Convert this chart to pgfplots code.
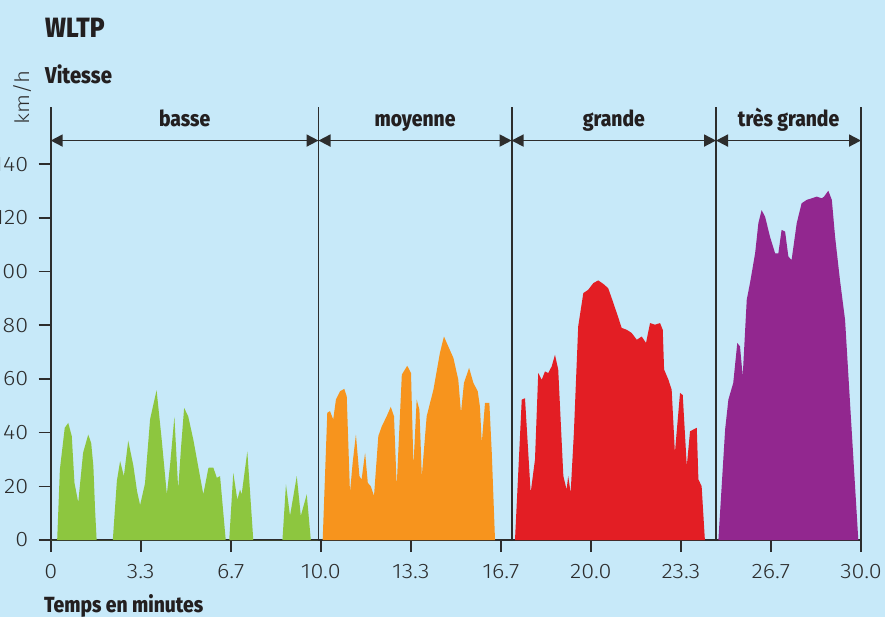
\documentclass[border=0pt]{standalone}
\usepackage{pgfplots}
\pgfplotsset{compat=1.18}
\usetikzlibrary{arrows.meta}
\usepackage{fontspec}
\setmainfont{Fira Sans}
\newfontfamily\lightfont[FakeStretch=1.12]{Fira Sans Light}
\newfontfamily\headfont[FakeStretch=0.88]{Fira Sans ExtraBold}

\definecolor{bgblue}{RGB}{199,233,249}
\definecolor{axisgray}{RGB}{45,45,45}
\definecolor{txt}{RGB}{35,31,32}
\definecolor{cbasse}{RGB}{141,198,63}
\definecolor{cmoy}{RGB}{247,148,29}
\definecolor{cgrande}{RGB}{227,30,36}
\definecolor{ctres}{RGB}{146,39,143}

\begin{document}
\begin{tikzpicture}
\useasboundingbox (0,0) rectangle (885bp,617bp);
\clip (0,0) rectangle (885bp,617bp);
\fill[bgblue] (0,0) rectangle (885bp,617bp);

\begin{axis}[
	at={(50.7bp,77bp)}, anchor=south west,
	scale only axis,
	width=810.3bp, height=433bp,
	xmin=0, xmax=30, ymin=0, ymax=161.3,
	clip=false,
	axis x line=bottom, axis y line=left,
	axis line style={-, line width=1.8bp, draw=axisgray},
	tick align=outside,
	major tick length=12bp,
	tick style={line width=1.6bp, draw=axisgray},
	xtick={0,3.3333,6.6667,10,13.3333,16.6667,20,23.3333,26.6667,30},
	xticklabels={0,3.3,6.7,10.0,13.3,16.7,20.0,23.3,26.7,30.0},
	ytick={0,20,...,140},
	/pgf/number format/assume math mode=true,
	tick label style={font=\lightfont\fontsize{21}{21}\selectfont, text=axisgray},
	xticklabel style={yshift=-9bp},
	yticklabel style={xshift=-7bp},
]
% basse
\addplot[fill=cbasse, draw=none] coordinates {
(0,0) (0.24,0) (0.34,26.3) (0.52,41.8) (0.65,43.6) (0.78,38.7) (0.88,21.3)
(1.02,14) (1.2,32.5) (1.39,39.3) (1.5,36) (1.58,27.5) (1.64,12) (1.70,0)
(2.30,0) (2.45,22) (2.57,29.4) (2.71,23.8) (2.87,37) (3.06,27.7) (3.20,18)
(3.31,13) (3.49,21) (3.68,45) (3.92,55.8) (4.11,37.4) (4.30,17) (4.42,28)
(4.58,45.9) (4.72,19) (4.83,35) (4.94,49.2) (5.09,46.1) (5.28,37.4) (5.45,28)
(5.65,17) (5.84,26.9) (6.02,27) (6.15,23.2) (6.27,23.8) (6.48,0)
(6.61,0) (6.76,25) (6.91,15) (7.01,18.8) (7.07,17) (7.28,33) (7.50,0)
(8.58,0) (8.71,20.7) (8.86,9) (9.11,23.8) (9.26,9) (9.48,17) (9.63,0) (9.9,0)
} \closedcycle;
% moyenne
\addplot[fill=cmoy, draw=none] coordinates {
(10.07,0) (10.24,47.4) (10.34,48) (10.46,44.9) (10.56,52.3) (10.71,55.4)
(10.87,56.3) (10.96,53.5) (11.08,17.6) (11.18,28.8) (11.30,39.3) (11.43,23.8)
(11.51,22.5) (11.64,32.5) (11.74,21.3) (11.85,20) (11.97,16.4) (12.13,38.7)
(12.26,42.4) (12.44,46.1) (12.59,49.6) (12.71,46.1) (12.81,20) (13.00,61.6)
(13.20,64.9) (13.34,62.2) (13.43,27.5) (13.55,52.3) (13.65,48.6) (13.74,23.8)
(13.92,46.1) (14.17,56) (14.41,69.7) (14.56,75.8) (14.72,72.1) (14.91,67.8)
(15.09,59.7) (15.19,47.4) (15.30,58.5) (15.49,64.1) (15.65,58.5) (15.81,55.4)
(15.89,49.8) (15.96,36.2) (16.08,51.1) (16.24,51.1) (16.33,32.5) (16.45,0)
} \closedcycle;
% grande
\addplot[fill=cgrande, draw=none] coordinates {
(17.19,0) (17.44,52.3) (17.56,52.8) (17.77,17.6) (17.93,30) (18.05,62.2)
(18.18,59.7) (18.30,62.8) (18.42,62.2) (18.55,64.7) (18.67,69) (18.79,63.5)
(18.98,23.8) (19.10,18.8) (19.16,23.8) (19.25,17.6) (19.37,39.9) (19.53,79.6)
(19.72,92) (19.90,93.2) (20.09,95.7) (20.27,96.7) (20.46,95.4) (20.64,93.8)
(20.77,90.1) (20.96,84.5) (21.14,79) (21.33,78.3) (21.51,77.1) (21.70,74.6)
(21.88,75.8) (22.04,73.4) (22.19,80.8) (22.37,80.2) (22.56,80.8) (22.66,78.3)
(22.71,63.5) (22.87,59.7) (22.99,56) (23.11,32.5) (23.30,54.8) (23.40,54)
(23.55,27.5) (23.67,40.5) (23.92,41.8) (23.98,22.6) (24.10,20) (24.22,0)
} \closedcycle;
% tres grande
\addplot[fill=ctres, draw=none] coordinates {
(24.72,0) (24.97,41.2) (25.09,52.3) (25.27,58.5) (25.42,73.4) (25.52,72.1)
(25.62,61) (25.77,89.5) (25.89,95.7) (26.08,106.8) (26.20,118) (26.32,122.9)
(26.45,120.4) (26.63,113) (26.82,106.8) (26.94,106.8) (27.06,115.5) (27.19,114.9)
(27.31,105.6) (27.43,104.3) (27.62,118) (27.80,125.4) (27.99,126.7) (28.18,127.3)
(28.36,127.9) (28.55,127.3) (28.63,127.9) (28.79,130.1) (28.92,126.7) (29.04,113)
(29.22,96.9) (29.41,82) (29.60,50) (29.90,0)
} \closedcycle;

% phase boundaries
\addplot[axisgray, line width=1.8bp] coordinates {(9.915,0) (9.915,161.3)};
\addplot[axisgray, line width=1.8bp] coordinates {(17.064,0) (17.064,161.3)};
\addplot[axisgray, line width=1.8bp] coordinates {(24.632,0) (24.632,161.3)};
\addplot[axisgray, line width=1.8bp] coordinates {(30,0) (30,161.3)};

\tikzset{phase/.style={axisgray, line width=1.8bp,
	{Triangle[length=12bp,width=12bp]}-{Triangle[length=12bp,width=12bp]}}}
\draw[phase] (axis cs:0,148.8) -- (axis cs:9.915,148.8);
\draw[phase] (axis cs:9.915,148.8) -- (axis cs:17.064,148.8);
\draw[phase] (axis cs:17.064,148.8) -- (axis cs:24.632,148.8);
\draw[phase] (axis cs:24.632,148.8) -- (axis cs:30,148.8);

\tikzset{plab/.style={anchor=base, text=txt, inner sep=0pt,
	font=\headfont\fontsize{22}{22}\selectfont}}
\node[plab] at (axis cs:4.96,153.9) {basse};
\node[plab] at (axis cs:13.49,153.9) {moyenne};
\node[plab] at (axis cs:20.85,153.9) {grande};
\node[plab] at (axis cs:27.32,153.9) {très grande};
\end{axis}

\node[anchor=base west, inner sep=0pt, text=txt,
	font=\headfont\fontsize{28}{28}\selectfont] at (45bp,579bp) {WLTP};
\node[anchor=base west, inner sep=0pt, text=txt,
	font=\headfont\fontsize{23}{23}\selectfont] at (45bp,533bp) {Vitesse};
\node[anchor=base west, inner sep=0pt, text=txt,
	font=\headfont\fontsize{22}{22}\selectfont] at (44bp,5bp) {Temps en minutes};
\node[rotate=90, inner sep=0pt, text=axisgray,
	font=\lightfont\fontsize{20}{20}\selectfont] at (22bp,519.5bp) {km/h};
\end{tikzpicture}
\end{document}
